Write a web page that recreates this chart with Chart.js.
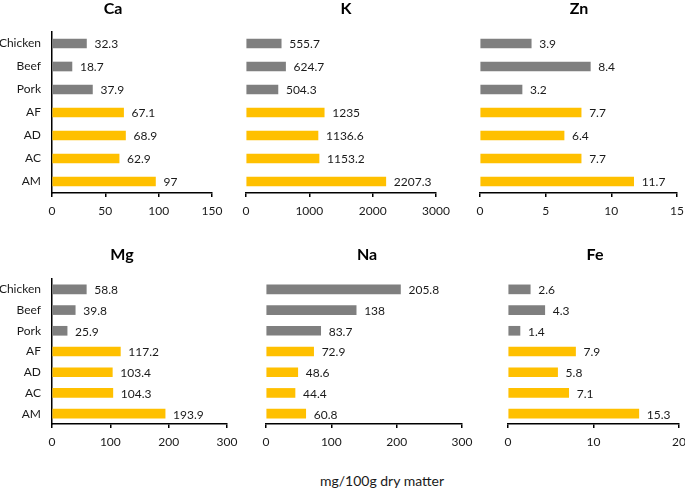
<!DOCTYPE html>
<html>
<head>
<meta charset="utf-8">
<title>Minerals, mg/100g dry matter</title>
<script src="https://cdn.jsdelivr.net/npm/chart.js@4"></script>
<style>
  html, body { margin: 0; padding: 0; background: #fff; overflow: hidden; }
  body { width: 685px; height: 489px; position: relative; font-family: Lato, sans-serif; }
  canvas { position: absolute; }
  #unit { position: absolute; left: 282px; width: 200px; top: 471px; text-align: center;
          font-size: 14px; color: #1a1a1a; line-height: 20px; }
</style>
</head>
<body>
<canvas id="ca"></canvas>
<canvas id="k"></canvas>
<canvas id="zn"></canvas>
<canvas id="mg"></canvas>
<canvas id="na"></canvas>
<canvas id="fe"></canvas>
<div id="unit">mg/100g dry matter</div>

<script>
// data
const categories = ['Chicken', 'Beef', 'Pork', 'AF', 'AD', 'AC', 'AM'];
const caValues = [32.3, 18.7, 37.9, 67.1, 68.9, 62.9, 97];
const kValues = [555.7, 624.7, 504.3, 1235, 1136.6, 1153.2, 2207.3];
const znValues = [3.9, 8.4, 3.2, 7.7, 6.4, 7.7, 11.7];
const mgValues = [58.8, 39.8, 25.9, 117.2, 103.4, 104.3, 193.9];
const naValues = [205.8, 138, 83.7, 72.9, 48.6, 44.4, 60.8];
const feValues = [2.6, 4.3, 1.4, 7.9, 5.8, 7.1, 15.3];

const caTicks = [0, 50, 100, 150];
const kTicks = [0, 1000, 2000, 3000];
const znTicks = [0, 5, 10, 15];
const mgTicks = [0, 100, 200, 300];
const naTicks = [0, 100, 200, 300];
const feTicks = [0, 10, 20];

const GRAY = '#7f7f7f';
const GOLD = '#ffc000';
const TEXT = '#1a1a1a';
const FONT = 'Lato';

// value next to the end of each bar
const valueLabels = {
  id: 'valueLabels',
  afterDatasetsDraw(chart) {
    const ctx = chart.ctx;
    const meta = chart.getDatasetMeta(0);
    const data = chart.data.datasets[0].data;
    ctx.save();
    ctx.font = '12px ' + FONT;
    ctx.fillStyle = TEXT;
    ctx.textAlign = 'left';
    ctx.textBaseline = 'middle';
    meta.data.forEach((bar, i) => ctx.fillText(String(data[i]), bar.x + 8, bar.y + 1));
    ctx.restore();
  }
};

// element name above each panel
const panelTitle = {
  id: 'panelTitle',
  afterDraw(chart, args, opts) {
    const ctx = chart.ctx;
    ctx.save();
    ctx.font = 'bold 16px ' + FONT;
    ctx.fillStyle = '#000';
    ctx.textAlign = 'center';
    ctx.textBaseline = 'middle';
    ctx.fillText(opts.text, opts.x, opts.y);
    ctx.restore();
  }
};

function makePanel(id, title, values, ticks, box) {
  const cv = document.getElementById(id);
  cv.width = box.width;
  cv.height = box.height;
  cv.style.left = box.left + 'px';
  cv.style.top = box.top + 'px';

  new Chart(cv, {
    type: 'bar',
    data: {
      labels: categories,
      datasets: [{
        data: values,
        backgroundColor: categories.map((c, i) => i < 3 ? GRAY : GOLD),
        barThickness: 9
      }]
    },
    options: {
      indexAxis: 'y',
      responsive: false,
      animation: false,
      layout: { padding: { left: box.padL, right: box.padR, top: box.padT, bottom: 0 } },
      plugins: {
        legend: { display: false },
        tooltip: { enabled: false },
        panelTitle: { text: title, x: box.titleX, y: box.titleY }
      },
      scales: {
        x: {
          min: ticks[0],
          max: ticks[ticks.length - 1],
          afterFit: s => { s.height = 30; },
          ticks: {
            stepSize: ticks[1] - ticks[0],
            callback: v => String(v),
            color: TEXT,
            font: { family: FONT, size: 12 },
            padding: 7
          },
          grid: { display: true, drawOnChartArea: false, drawTicks: true, tickLength: 4, color: '#000', lineWidth: 1.5 },
          border: { display: true, color: '#000', width: 1.5 }
        },
        y: {
          display: box.cats,
          afterFit: s => { if (box.cats) s.width = 52; },
          ticks: { color: TEXT, font: { family: FONT, size: 12 }, padding: 11 },
          grid: { display: false, drawTicks: false },
          border: { display: true, color: '#000', width: 1.5 }
        }
      }
    },
    plugins: [valueLabels, panelTitle]
  });
}

// top row: plot area y 32..193, bottom row: 279..424
makePanel('ca', 'Ca', caValues, caTicks, { left: 0, top: 0, width: 230, height: 223, padL: 0, padR: 18, padT: 32, cats: true, titleX: 113, titleY: 9 });
makePanel('k', 'K', kValues, kTicks, { left: 231, top: 0, width: 230, height: 223, padL: 15, padR: 25, padT: 32, cats: false, titleX: 115, titleY: 9 });
makePanel('zn', 'Zn', znValues, znTicks, { left: 466, top: 0, width: 226, height: 223, padL: 14, padR: 15, padT: 32, cats: false, titleX: 113, titleY: 9 });
makePanel('mg', 'Mg', mgValues, mgTicks, { left: 0, top: 246, width: 248, height: 208, padL: 0, padR: 21, padT: 33, cats: true, titleX: 122, titleY: 9 });
makePanel('na', 'Na', naValues, naTicks, { left: 251, top: 246, width: 232, height: 208, padL: 15, padR: 21, padT: 33, cats: false, titleX: 116, titleY: 9 });
makePanel('fe', 'Fe', feValues, feTicks, { left: 494, top: 246, width: 201, height: 208, padL: 14, padR: 16, padT: 33, cats: false, titleX: 101, titleY: 9 });
</script>
</body>
</html>
